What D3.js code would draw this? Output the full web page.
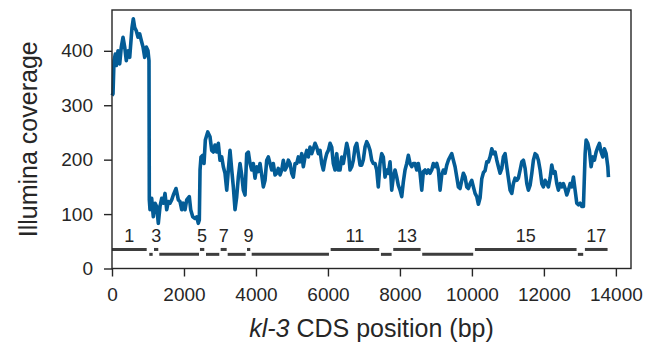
<!DOCTYPE html>
<html><head><meta charset="utf-8">
<script src="https://cdn.jsdelivr.net/npm/d3@7"></script>
<style>
html,body{margin:0;padding:0;background:#fff;}
svg text{font-family:"Liberation Sans",Arial,Helvetica,sans-serif;fill:#262626;}
</style></head>
<body><svg id="c" width="651" height="348"></svg>
<script>
// CDS position (bp) of coverage samples
const positions = [0,28,56,92,120,167,214,258,306,353,397,445,492,556,592,631,675,723,770,814,862,909,953,1000,1028,
1037,1056,1103,1148,1195,1242,1287,1334,1381,1426,1473,1520,1565,1612,1659,1704,1779,1843,1890,1937,1981,2029,2076,2148,2187,2243,2307,2354,2398,2426,
2446,2473,2521,2557,2593,2660,2723,2771,2815,2862,2910,2954,3001,3049,3093,3140,3188,3232,3279,3327,3371,3418,3465,3510,3557,3604,3649,3696,
3743,3788,3835,3882,3926,3974,4021,4065,4113,4160,4205,4252,4299,4343,4391,4438,4482,4530,4577,4621,4669,4716,4760,4808,4855,4899,4947,4994,
5038,5086,5133,5177,5225,5272,5316,5363,5411,5455,5502,5549,5594,5641,5688,5733,5780,5827,5872,5919,5966,6011,6058,6105,6149,6197,6244,6288,
6336,6383,6427,6475,6522,6566,6614,6661,6705,6753,6800,6844,6892,6939,6983,7030,7077,7121,7169,7216,7260,7308,7355,7399,7447,7494,7538,7586,
7633,7677,7725,7772,7816,7864,7911,7955,8003,8050,8094,8142,8189,8234,8281,8328,8373,8420,8467,8512,8559,8606,8651,8698,8745,8790,8837,8884,
8929,8976,9023,9068,9115,9162,9207,9254,9301,9346,9393,9440,9485,9532,9579,9624,9671,9718,9763,9810,9857,9902,9949,9996,10041,10088,10135,10180,
10227,10274,10319,10366,10413,10458,10505,10552,10597,10644,10691,10736,10783,10830,10874,10922,10969,11014,11061,11108,11152,11200,11247,11291,
11339,11386,11430,11478,11525,11569,11617,11664,11708,11756,11803,11847,11895,11942,11986,12033,12081,12125,12172,12219,12264,12311,12358,12403,
12450,12497,12542,12589,12636,12681,12728,12775,12820,12867,12914,12959,13006,13053,13098,13146,13173,13220,13264,13312,13359,13404,13450,13498,
13542,13590,13637,13682,13729,13776,13793];
// Illumina read coverage at those positions
const coverage = [318,321,382,394,373,400,376,407,425,407,382,400,388,443,459,443,437,425,431,419,407,388,407,400,382,
126,108,129,95,120,114,83,114,129,120,138,108,123,120,126,135,147,126,123,108,120,108,126,132,108,95,92,95,83,89,
181,205,208,193,236,251,242,217,214,227,214,230,199,205,187,175,144,181,217,181,150,108,132,168,193,172,144,135,
211,214,193,181,193,166,187,178,193,172,150,162,199,205,193,181,193,172,175,184,172,181,199,181,187,199,193,175,
168,193,193,205,196,211,187,205,217,205,223,211,220,230,223,211,217,193,181,199,211,217,230,223,193,181,211,181,
181,205,193,211,230,217,181,187,199,223,230,211,190,190,200,223,233,227,217,199,193,193,181,150,193,211,205,168,
181,175,196,144,168,181,168,153,144,132,159,181,193,208,193,187,193,193,181,193,175,144,178,181,175,181,175,181,
193,187,193,181,144,172,181,175,190,199,205,211,199,187,168,150,147,162,175,168,150,147,156,162,150,138,132,118,
130,165,176,180,196,196,205,220,211,214,199,187,175,184,205,211,187,166,144,138,156,166,162,166,
181,196,199,184,156,144,153,175,199,211,208,199,181,156,150,162,156,150,166,190,175,178,156,144,
156,150,156,147,135,144,156,150,168,144,120,117,120,114,114,211,236,230,217,187,205,199,214,223,
230,214,205,220,211,187,168];
// Exon coordinates (bp) and labels
const exonStart = [0,1036,1167,1314,2444,2611,3019,3214,3750,3881,6075,7472,7814,8619,10083,12944,13139];
const exonEnd   = [964,1130,1286,2417,2564,2981,3186,3714,3842,6028,7425,7769,8575,10036,12908,13092,13769];
const exonNumber = [1,2,3,4,5,6,7,8,9,10,11,12,13,14,15,16,17];
const exonLevel = [35,26]; // odd, even exon bar height (coverage units)
const xTicks = [0,2000,4000,6000,8000,10000,12000,14000];
const yTicks = [0,100,200,300,400];

const svg = d3.select('#c');
const L=112, R=631, T=10, B=268.5;
const x = d3.scaleLinear().domain([0,14420]).range([L,R]);
const y = d3.scaleLinear().domain([0,475]).range([B,T]);
const ink = '#262626';

// exon bars
const exons = exonNumber.map((n,i)=>({n,s:exonStart[i],e:exonEnd[i]}));
svg.append('g').selectAll('line').data(exons).join('line')
  .attr('x1',d=>x(d.s)).attr('x2',d=>x(d.e))
  .attr('y1',d=>y(exonLevel[d.n%2===1?0:1])).attr('y2',d=>y(exonLevel[d.n%2===1?0:1]))
  .attr('stroke','#3d3d3d').attr('stroke-width',3);
svg.append('g').selectAll('text').data(exons.filter(d=>d.n%2===1)).join('text')
  .attr('x',d=>x((d.s+d.e)/2)).attr('y',y(exonLevel[0])-7)
  .attr('text-anchor','middle').attr('font-size',18).text(d=>d.n);

// coverage line
const pts = positions.map((p,i)=>[p,coverage[i]]);
svg.append('path').datum(pts)
  .attr('fill','none').attr('stroke','#035c96').attr('stroke-width',3.6)
  .attr('stroke-linejoin','round')
  .attr('d',d3.line().x(d=>x(d[0])).y(d=>y(d[1])));

// axes
const xa = svg.append('g').attr('transform',`translate(0,${B})`)
  .call(d3.axisBottom(x).tickValues(xTicks).tickSize(8).tickPadding(11).tickFormat(d3.format('d')));
const ya = svg.append('g').attr('transform',`translate(${L},0)`)
  .call(d3.axisLeft(y).tickValues(yTicks).tickSize(8).tickPadding(11));
[xa,ya].forEach(a=>{
  a.select('.domain').remove();
  a.selectAll('line').attr('stroke',ink).attr('stroke-width',1.4);
  a.selectAll('text').attr('font-size',19).attr('fill',ink).style('font-family','"Liberation Sans",Arial,sans-serif');
});
svg.append('rect').attr('x',L).attr('y',T).attr('width',R-L).attr('height',B-T)
  .attr('fill','none').attr('stroke',ink).attr('stroke-width',1.4);

// labels
const xl = svg.append('text').attr('x',(L+R)/2).attr('y',337).attr('text-anchor','middle').attr('font-size',25);
xl.append('tspan').attr('font-style','italic').text('kl-3');
xl.append('tspan').text(' CDS position (bp)');
svg.append('text').attr('transform',`translate(37,${(T+B)/2}) rotate(-90)`)
  .attr('text-anchor','middle').attr('font-size',25).text('Illumina coverage');
</script></body></html>
